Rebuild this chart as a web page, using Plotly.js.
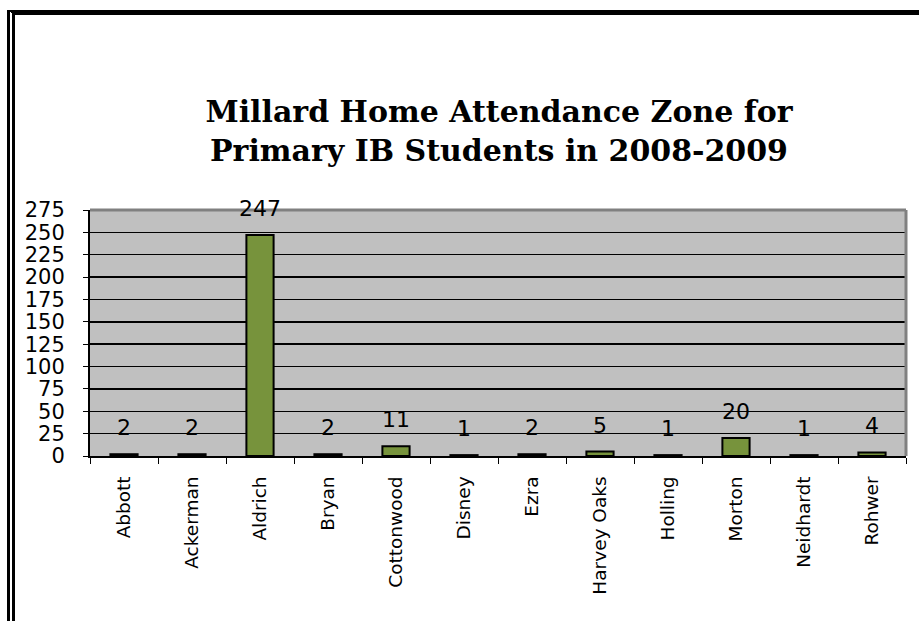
<!DOCTYPE html>
<html>
<head>
<meta charset="utf-8">
<script src="https://cdn.plot.ly/plotly-3.0.1.min.js"></script>
<style>
  html, body { margin: 0; padding: 0; background: #fff; }
  #wrap { position: relative; width: 919px; height: 621px; overflow: hidden; }
  #chart { position: absolute; left: 0; top: 0; width: 919px; height: 621px; }
  #frame { position: absolute; left: 7px; top: 10px; width: 940px; height: 700px;
           border-top: 5px solid #000; border-left: 8px double #000; box-sizing: border-box; pointer-events: none; }
</style>
</head>
<body>
<div id="wrap">
  <div id="chart"></div>
  <div id="frame"></div>
</div>
<script>
const schools = ["Abbott", "Ackerman", "Aldrich", "Bryan", "Cottonwood", "Disney", "Ezra", "Harvey Oaks", "Holling", "Morton", "Neidhardt", "Rohwer"];
const students = [2, 2, 247, 2, 11, 1, 2, 5, 1, 20, 1, 4];
const yTicks = [0, 25, 50, 75, 100, 125, 150, 175, 200, 225, 250, 275];
const chartTitle = "Millard Home Attendance Zone for<br>Primary IB Students in 2008-2009";

const numFont = "DejaVu Sans, Arial, sans-serif";

const trace = {
  type: "bar",
  x: schools,
  y: students,
  width: 0.4,
  marker: { color: "#77933C", line: { color: "#000", width: 2 } },
  hoverinfo: "x+y"
};

const annotations = schools.map((s, i) => ({
  x: s, y: students[i], xref: "x", yref: "y",
  text: String(students[i]), showarrow: false,
  yanchor: "bottom", yshift: 12,
  font: { family: numFont, size: 22, color: "#000" }
}));

const layout = {
  width: 919, height: 621,
  margin: { l: 90, r: 13, t: 210, b: 165 },
  paper_bgcolor: "rgba(0,0,0,0)",
  plot_bgcolor: "#C0C0C0",
  showlegend: false,
  title: {
    text: chartTitle,
    font: { family: "DejaVu Serif, serif", size: 30, color: "#000", weight: "bold" },
    x: 0.543, xanchor: "center",
    y: 1 - 122 / 621, yanchor: "middle", yref: "container"
  },
  xaxis: {
    type: "category",
    tickson: "boundaries",
    ticks: "outside", ticklen: 6, tickwidth: 1, tickcolor: "#000",
    showline: true, linecolor: "#000", linewidth: 2,
    showgrid: false,
    tickangle: -90,
    ticklabelstandoff: 11,
    tickfont: { family: numFont, size: 18.5, color: "#000" }
  },
  yaxis: {
    range: [0, 275],
    tickvals: yTicks,
    ticktext: yTicks.map(String),
    ticks: "outside", ticklen: 5, tickwidth: 1, tickcolor: "#000",
    showline: true, linecolor: "#000", linewidth: 2,
    showgrid: true, gridcolor: "#000", gridwidth: 1.5,
    zeroline: false,
    ticklabelstandoff: 14,
    tickfont: { family: numFont, size: 21, color: "#000" }
  },
  shapes: [
    { type: "line", xref: "paper", yref: "paper", x0: 0, x1: 1, y0: 1, y1: 1, line: { color: "#808080", width: 3 } },
    { type: "line", xref: "paper", yref: "paper", x0: 1, x1: 1, y0: 0, y1: 1, line: { color: "#808080", width: 3 } }
  ],
  annotations: annotations
};

Plotly.newPlot("chart", [trace], layout, { displayModeBar: false, staticPlot: true });
</script>
</body>
</html>
